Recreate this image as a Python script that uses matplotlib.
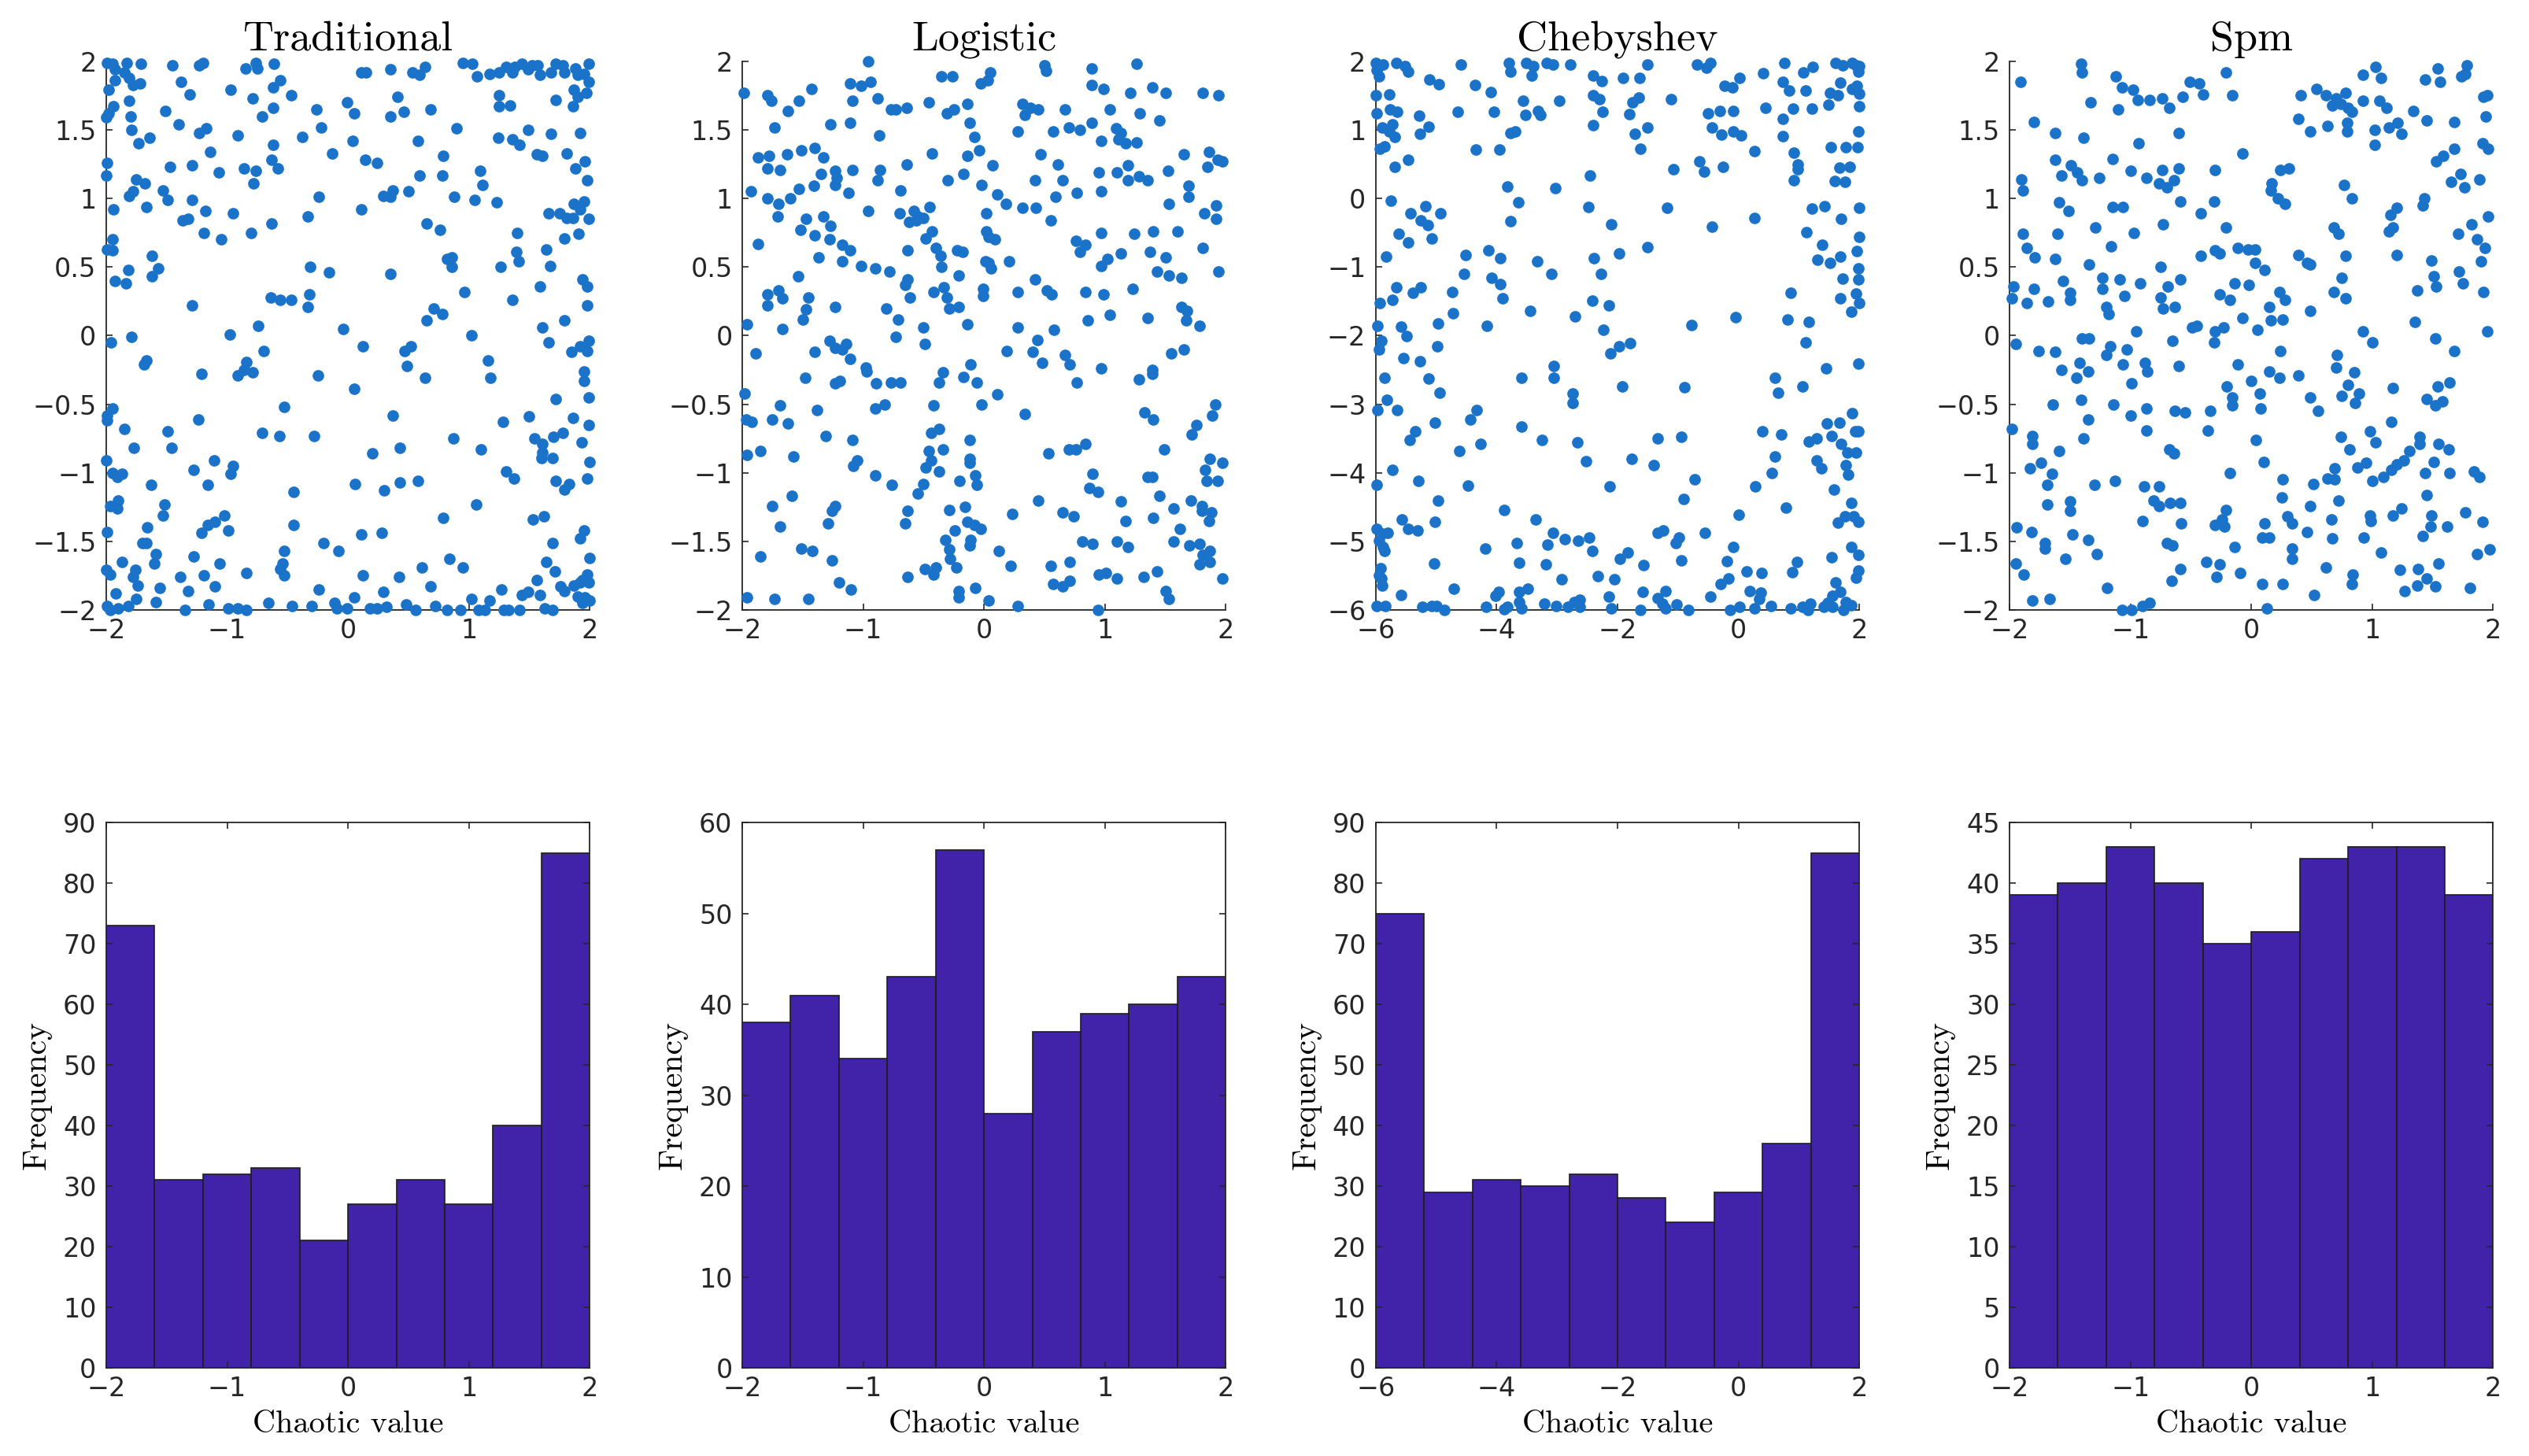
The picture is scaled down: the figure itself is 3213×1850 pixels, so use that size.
import matplotlib.pyplot as plt
import numpy as np

# ---------------- data ----------------
titles = ["Traditional", "Logistic", "Chebyshev", "Spm"]

# scatter points (x, y) of each population, 400 per map
trad_xy = np.array([
    (-1.99,1.99),(-1.95,1.98),(-1.93,1.94),(-1.83,1.99),(-1.85,1.92),(-1.81,1.88),(-1.71,1.98),(-1.45,1.97),(-1.23,1.97),(-1.20,1.99),(-0.85,1.95),(-0.76,1.99),(-0.75,1.95),(-0.61,1.98),(0.11,1.92),(0.15,1.92),(0.35,1.94),(0.53,1.92),(0.59,1.90),(0.64,1.96),(0.95,1.99),(1.03,1.98),(1.07,1.89),(1.17,1.91),(1.25,1.92),(1.31,1.96),(1.36,1.92),(1.38,1.96),(1.44,1.98),(1.49,1.94),(1.52,1.97),(1.57,1.97),(1.59,1.90),(1.68,1.92),(1.72,1.98),(1.78,1.97),(1.79,1.92),(1.88,1.95),(1.90,1.90),(1.95,1.91),(1.99,1.98),(1.99,1.85),
    (-1.93,1.86),(-1.78,1.83),(-1.72,1.84),(-1.98,1.79),(-1.38,1.85),(-1.31,1.76),(-0.97,1.79),(-0.79,1.73),(-0.62,1.81),(-0.56,1.86),(-0.47,1.75),(0.41,1.74),(1.25,1.75),(1.25,1.67),(1.34,1.68),(1.72,1.72),(1.87,1.79),(1.90,1.74),(1.97,1.77),(1.86,1.67),
    (-1.81,1.71),(-1.94,1.67),(-1.98,1.62),(-2.00,1.59),(-1.80,1.60),(-1.51,1.64),(-0.62,1.66),(-0.71,1.60),(-0.26,1.65),(-0.01,1.70),(0.05,1.62),(0.35,1.60),(0.46,1.63),(0.68,1.65),
    (-1.79,1.50),(-1.40,1.54),(-1.23,1.48),(-1.17,1.51),(-0.91,1.46),(-0.38,1.45),(-0.22,1.52),(0.90,1.51),(1.24,1.44),(1.36,1.43),(1.42,1.39),(1.49,1.50),(1.68,1.47),(1.92,1.48),
    (-1.64,1.44),(-1.73,1.40),(0.04,1.42),(0.58,1.42),(-0.62,1.39),(-1.14,1.34),(-0.13,1.33),(0.79,1.31),(1.56,1.32),(1.61,1.31),(1.81,1.33),
    (-1.99,1.26),(-1.47,1.23),(-1.29,1.24),(-1.07,1.19),(-0.86,1.22),(-0.76,1.20),(-0.63,1.28),(-0.58,1.22),(0.14,1.28),(0.24,1.26),(1.09,1.20),(1.88,1.22),(1.96,1.27),(1.98,1.13),
    (-2.00,1.17),(-1.75,1.14),(-1.68,1.11),(-0.78,1.11),(0.59,1.17),(0.78,1.17),(1.11,1.10),
    (-1.81,1.02),(-1.78,1.05),(-1.53,1.06),(-1.49,0.99),(-1.29,0.99),(-1.94,0.92),(-1.67,0.94),(-1.18,0.91),(-0.95,0.89),(-0.24,1.01),(0.11,0.92),(0.29,1.02),(0.35,1.01),(0.37,1.06),(0.50,1.05),(0.88,1.01),(1.05,0.99),(1.23,0.97),(1.87,0.96),(1.95,0.98),(1.92,0.92),(1.66,0.89),(1.75,0.89),(1.81,0.86),(1.86,0.86),(1.99,0.85),
    (-1.37,0.84),(-1.32,0.85),(-0.63,0.82),(-0.33,0.87),(0.65,0.82),(0.76,0.77),(-1.19,0.75),(-1.05,0.70),(-0.80,0.75),(1.40,0.75),(1.79,0.71),(1.91,0.74),
    (-1.95,0.70),(-1.99,0.63),(-1.95,0.62),(-1.62,0.58),(0.82,0.56),(0.86,0.57),(0.86,0.50),(1.39,0.61),(1.41,0.54),(1.64,0.63),(1.67,0.51),(1.26,0.50),
    (-1.82,0.48),(-1.57,0.49),(-1.62,0.43),(-1.93,0.40),(-1.84,0.38),(-0.31,0.50),(-0.16,0.46),(0.35,0.45),(1.94,0.41),(1.98,0.36),(1.59,0.36),(0.96,0.32),
    (-0.64,0.28),(-0.56,0.26),(-0.47,0.26),(-0.32,0.30),(-0.33,0.21),(-1.29,0.22),(1.36,0.26),(0.71,0.20),(0.78,0.16),(1.98,0.22),
    (0.65,0.11),(-0.74,0.07),(-0.04,0.05),(1.61,0.06),(1.79,0.11),
    (-1.96,-0.05),(-1.79,-0.01),(-0.98,0.01),(1.02,0.00),(1.66,-0.05),(1.99,-0.04),(1.92,-0.08),(1.98,-0.11),(1.85,-0.12),(0.12,-0.08),(0.47,-0.11),(0.52,-0.08),(-0.70,-0.11),
    (-1.67,-0.18),(-1.69,-0.21),(-0.84,-0.19),(-0.91,-0.29),(-0.86,-0.25),(-0.79,-0.27),(-1.21,-0.28),(-0.25,-0.29),(0.49,-0.22),(0.64,-0.31),(1.16,-0.18),(1.18,-0.31),(1.95,-0.26),(1.95,-0.33),
    (0.05,-0.39),(1.72,-0.46),(1.99,-0.45),(-0.53,-0.52),(0.37,-0.58),(-1.95,-0.53),(-1.99,-0.58),(-1.99,-0.62),(-1.24,-0.61),(1.28,-0.63),(1.50,-0.59),(1.86,-0.60),(1.99,-0.65),
    (-1.85,-0.68),(-1.49,-0.70),(-0.71,-0.71),(-0.57,-0.73),(-0.28,-0.73),(0.87,-0.75),(1.54,-0.75),(1.70,-0.74),(1.78,-0.71),(1.61,-0.79),(1.93,-0.78),
    (-1.77,-0.82),(-1.46,-0.82),(0.20,-0.86),(0.43,-0.82),(1.10,-0.83),(1.60,-0.89),(1.69,-0.89),(1.61,-0.85),(2.00,-0.92),
    (-2.00,-0.91),(-1.95,-1.00),(-1.91,-1.03),(-1.87,-1.01),(-1.28,-0.98),(-1.11,-0.91),(-0.95,-0.95),(-0.97,-1.01),(1.31,-0.99),(1.37,-1.04),(1.72,-1.06),(1.83,-1.08),(1.79,-1.12),(1.98,-1.04),
    (-1.63,-1.09),(-1.16,-1.09),(-0.45,-1.14),(0.06,-1.08),(0.30,-1.13),(0.43,-1.07),(0.58,-1.06),
    (-1.90,-1.20),(-1.97,-1.24),(-1.91,-1.26),(-1.52,-1.23),(-1.53,-1.31),(-1.02,-1.31),(1.06,-1.23),(0.79,-1.33),(1.53,-1.34),(1.62,-1.32),
    (-1.99,-1.43),(-1.66,-1.40),(-1.21,-1.44),(-1.16,-1.38),(-1.10,-1.36),(-0.99,-1.42),(-0.45,-1.38),(0.11,-1.45),(0.28,-1.44),(1.95,-1.42),(1.92,-1.48),
    (-1.70,-1.51),(-1.67,-1.51),(-0.20,-1.51),(-0.08,-1.57),(1.69,-1.51),(-0.53,-1.57),(-1.59,-1.59),(-1.28,-1.61),(-1.87,-1.65),(-1.60,-1.66),(-1.06,-1.66),(-0.54,-1.66),
    (0.84,-1.63),(0.95,-1.69),(0.61,-1.69),(1.64,-1.65),(2.00,-1.62),(1.71,-1.72),
    (-2.00,-1.71),(-1.97,-1.74),(-1.76,-1.71),(-1.78,-1.76),(-1.39,-1.76),(-1.19,-1.75),(-0.84,-1.73),(-0.56,-1.70),(-0.53,-1.75),(0.12,-1.75),(0.42,-1.76),(1.56,-1.78),(1.98,-1.74),(1.94,-1.78),
    (-1.74,-1.82),(-1.56,-1.84),(-1.32,-1.86),(-1.10,-1.83),(0.68,-1.83),(1.27,-1.85),(1.76,-1.83),(1.87,-1.82),(1.92,-1.80),(1.79,-1.86),(1.99,-1.80),(-1.92,-1.88),(-0.24,-1.85),(0.29,-1.87),
    (-1.75,-1.92),(-1.59,-1.94),(-0.66,-1.95),(0.05,-1.91),(1.02,-1.92),(1.17,-1.93),(1.44,-1.89),(1.49,-1.87),(1.59,-1.89),(1.90,-1.90),(1.96,-1.91),(2.00,-1.93),(1.94,-1.95),
    (-1.99,-1.97),(-1.97,-2.00),(-1.90,-1.99),(-1.82,-1.97),(-1.35,-2.00),(-1.15,-1.96),(-0.99,-1.99),(-0.91,-1.99),(-0.84,-2.00),(-0.46,-1.97),(-0.30,-1.97),(-0.11,-1.95),(-0.09,-1.99),(-0.01,-1.99),(0.18,-1.99),(0.24,-1.99),(0.32,-1.98),(0.48,-1.96),(0.56,-2.00),(0.72,-1.97),(0.82,-2.00),(0.93,-2.00),(1.08,-2.00),(1.13,-2.00),(1.29,-2.00),(1.33,-2.00),(1.42,-2.00),(1.63,-1.99),(1.69,-2.00),
])

log_xy = np.array([
    (-0.96,2.00),(0.50,1.97),(0.51,1.93),(0.89,1.95),(1.26,1.98),(-0.35,1.89),(-0.26,1.89),(0.05,1.92),(-0.03,1.84),(0.03,1.86),(-1.11,1.84),(-1.02,1.82),(-0.94,1.85),(-1.99,1.77),(-1.79,1.75),(-1.76,1.71),(-1.43,1.80),(-1.53,1.71),(-1.09,1.71),(-0.88,1.73),(0.89,1.83),(0.99,1.80),(1.21,1.77),(1.39,1.81),(1.50,1.77),(1.81,1.77),(1.94,1.75),
    (-1.62,1.64),(-0.77,1.65),(-0.73,1.65),(-0.64,1.66),(-0.46,1.70),(-0.31,1.62),(-0.25,1.65),(-0.14,1.69),(0.32,1.69),(0.34,1.61),(0.38,1.66),(0.45,1.65),(0.67,1.65),(1.04,1.65),(1.29,1.62),(1.45,1.57),
    (-1.73,1.52),(-1.27,1.54),(-1.11,1.55),(-0.87,1.46),(-0.12,1.55),(-0.08,1.45),(0.28,1.49),(0.57,1.49),(0.70,1.52),(0.79,1.50),(0.89,1.55),(1.09,1.51),(1.11,1.43),(1.17,1.40),(1.26,1.41),(0.97,1.42),(1.13,1.48),
    (-1.87,1.30),(-1.78,1.31),(-1.63,1.32),(-1.51,1.35),(-1.40,1.37),(-1.33,1.30),(-0.43,1.33),(-0.14,1.31),(-0.04,1.35),(0.47,1.32),(1.65,1.32),(1.86,1.34),(1.93,1.28),(1.97,1.27),
    (-1.79,1.22),(-1.69,1.21),(-1.35,1.18),(-1.23,1.20),(-1.22,1.15),(-1.23,1.10),(-1.09,1.21),(-0.86,1.21),(-0.88,1.13),(-0.64,1.25),(-0.17,1.18),(-0.30,1.13),(0.07,1.24),(0.61,1.25),(0.42,1.13),(0.65,1.13),(0.95,1.19),(1.10,1.19),(1.19,1.24),(1.19,1.13),(1.28,1.16),(1.35,1.13),(1.52,1.20),(1.85,1.23),
    (-1.93,1.05),(-1.53,1.07),(-1.41,1.09),(-1.60,1.00),(-1.79,1.00),(-1.70,0.96),(-1.12,1.04),(-0.69,1.06),(-0.02,1.10),(0.11,1.03),(0.59,1.01),(0.77,1.04),(0.97,1.05),(1.69,1.09),(1.69,1.01),
    (-1.71,0.87),(-1.47,0.85),(-1.33,0.87),(-1.27,0.80),(-1.52,0.77),(-0.96,0.91),(-0.70,0.89),(-0.58,0.91),(-0.55,0.87),(-0.62,0.83),(-0.56,0.84),(-0.50,0.86),(-0.45,0.94),(0.02,0.89),(0.18,0.96),(0.32,0.93),(0.43,0.93),(0.55,0.84),(1.53,0.96),(1.82,0.89),(1.92,0.95),(1.92,0.85),
    (-1.87,0.67),(-1.40,0.73),(-1.28,0.70),(-1.17,0.66),(-1.11,0.62),(-0.43,0.76),(-0.48,0.71),(-0.40,0.64),(-0.36,0.58),(-0.63,0.62),(-0.22,0.62),(-0.18,0.61),(0.02,0.76),(0.04,0.72),(0.09,0.70),(0.97,0.75),(1.24,0.74),(1.40,0.76),(1.60,0.76),(0.76,0.69),(0.84,0.66),(0.79,0.61),(1.81,0.64),
    (-1.37,0.57),(-1.17,0.54),(-1.02,0.51),(-0.90,0.49),(-0.78,0.47),(-0.35,0.50),(0.01,0.54),(0.04,0.53),(0.06,0.49),(0.21,0.54),(0.97,0.51),(1.02,0.56),(1.13,0.60),(1.37,0.61),(1.50,0.57),(1.43,0.47),(1.53,0.44),(1.63,0.42),(1.94,0.47),
    (-1.54,0.43),(-0.21,0.44),(-0.63,0.41),(-0.65,0.37),(0.42,0.41),
    (-1.79,0.30),(-1.70,0.33),(-1.67,0.27),(-1.45,0.28),(-1.79,0.22),(-0.42,0.32),(-0.33,0.35),(-0.31,0.28),(-0.01,0.34),(-0.01,0.29),(0.28,0.32),(0.52,0.33),(0.56,0.30),(0.84,0.32),(0.99,0.30),(1.23,0.34),(-0.61,0.28),
    (-1.47,0.19),(-1.50,0.12),(-1.23,0.21),(-0.81,0.20),(-0.71,0.12),(-0.29,0.20),(-0.21,0.21),(1.63,0.21),(1.68,0.18),(1.67,0.11),(0.86,0.11),(1.04,0.15),(1.35,0.13),
    (-1.96,0.08),(-1.67,0.05),(-0.50,0.06),(-0.14,0.08),(0.28,0.06),(0.58,0.04),(1.78,0.07),
    (-0.73,-0.01),(0.44,-0.03),(-1.28,-0.04),(-1.23,-0.09),(-1.14,-0.06),(-1.17,-0.10),(-1.89,-0.13),(-1.40,-0.12),(-0.49,-0.06),(0.19,-0.11),(0.40,-0.12),(0.67,-0.14),(0.71,-0.21),(0.48,-0.20),(1.55,-0.13),(1.65,-0.10),
    (-1.11,-0.17),(-0.98,-0.23),(-0.97,-0.26),(-1.48,-0.31),(-1.23,-0.35),(-1.19,-0.33),(-0.89,-0.35),(-0.77,-0.34),(-0.69,-0.34),(-0.37,-0.34),(-0.34,-0.27),(-0.17,-0.30),(-0.11,-0.21),(-0.06,-0.34),(0.77,-0.34),(0.97,-0.24),(1.28,-0.32),(1.39,-0.25),(1.39,-0.28),(0.11,-0.43),
    (-1.98,-0.42),(-1.69,-0.51),(-1.38,-0.54),(-0.90,-0.53),(-0.82,-0.50),(-0.42,-0.51),(-0.02,-0.50),(0.34,-0.57),(1.33,-0.56),(1.40,-0.61),(1.91,-0.50),(1.89,-0.58),
    (-1.97,-0.61),(-1.92,-0.63),(-1.75,-0.61),(-1.62,-0.64),(-1.31,-0.73),(-1.09,-0.76),(-0.44,-0.71),(-0.37,-0.68),(-0.12,-0.76),(1.76,-0.65),(1.72,-0.72),
    (-1.96,-0.87),(-1.85,-0.84),(-1.58,-0.88),(-1.08,-0.95),(-1.05,-0.91),(-0.46,-0.84),(-0.34,-0.83),(-0.48,-0.96),(-0.44,-0.91),(-0.37,-0.99),(-0.12,-0.90),(-0.12,-0.93),(0.53,-0.86),(0.70,-0.83),(0.76,-0.83),(0.84,-0.79),(1.49,-0.83),(1.87,-0.90),(1.97,-0.93),(1.83,-0.98),
    (-0.90,-1.02),(-0.76,-1.09),(-0.50,-1.08),(-0.55,-1.15),(-0.20,-1.06),(-0.07,-1.02),(-0.06,-1.09),(0.90,-1.01),(0.87,-1.11),(0.94,-1.14),(1.35,-1.03),(1.39,-1.03),(1.84,-1.06),(1.93,-1.06),
    (-1.59,-1.17),(-1.75,-1.24),(-1.23,-1.24),(-1.26,-1.28),(-0.63,-1.28),(-0.29,-1.27),(-0.16,-1.25),(0.45,-1.20),(1.13,-1.21),(1.45,-1.17),(1.57,-1.26),(1.71,-1.20),(1.80,-1.24),(1.80,-1.28),(1.88,-1.29),
    (-1.69,-1.39),(-1.29,-1.37),(-0.65,-1.37),(-0.24,-1.42),(-0.14,-1.36),(-0.08,-1.38),(-0.03,-1.41),(0.23,-1.30),(0.65,-1.29),(0.74,-1.32),(1.17,-1.35),(1.40,-1.33),(1.62,-1.41),(1.86,-1.35),
    (-0.32,-1.49),(-0.11,-1.49),(-0.12,-1.53),(0.81,-1.50),(0.90,-1.52),(1.10,-1.50),(1.19,-1.54),(1.57,-1.50),(1.70,-1.53),(1.78,-1.52),
    (-1.85,-1.61),(-1.51,-1.55),(-1.42,-1.57),(-1.26,-1.64),(-0.29,-1.56),(-0.28,-1.63),(-0.23,-1.69),(0.12,-1.57),(0.22,-1.68),(0.55,-1.68),(0.71,-1.65),(1.87,-1.57),(1.81,-1.60),(1.87,-1.65),(1.78,-1.67),
    (-0.49,-1.70),(-0.40,-1.69),(-0.42,-1.74),(-0.63,-1.76),(0.95,-1.74),(1.01,-1.73),(1.10,-1.77),(1.32,-1.76),(1.43,-1.72),(1.97,-1.77),
    (-1.20,-1.80),(-1.10,-1.85),(-0.21,-1.86),(-0.07,-1.84),(0.57,-1.81),(0.65,-1.83),(0.71,-1.79),(1.50,-1.86),
    (-1.96,-1.91),(-1.73,-1.92),(-1.45,-1.92),(-0.21,-1.91),(0.04,-1.93),(0.28,-1.97),(0.94,-2.00),(1.53,-1.92),
])

cheb_xy = np.array([
    (-6.00,1.97),(-5.95,1.93),(-5.88,1.95),(-5.98,1.87),(-5.95,1.78),(-5.66,1.97),(-5.51,1.93),(-5.47,1.85),(-4.59,1.95),(-3.80,1.98),(-3.77,1.85),(-3.51,1.97),(-3.40,1.93),(-3.42,1.79),(-3.17,1.98),(-3.07,1.95),(-2.78,1.95),(-1.50,1.95),(-0.68,1.95),(-0.53,1.91),(-0.47,1.98),(0.76,1.98),(1.07,1.84),(1.23,1.92),(0.41,1.83),(1.61,1.97),(1.72,1.94),(1.88,1.98),(1.94,1.94),(2.00,1.93),(1.98,1.85),
    (-5.11,1.74),(-4.96,1.67),(-4.36,1.65),(-4.10,1.55),(-2.40,1.79),(-2.26,1.71),(-1.91,1.76),(-1.63,1.76),(-0.23,1.64),(-0.10,1.62),(0.02,1.76),(0.74,1.70),(0.84,1.57),(1.11,1.57),(1.68,1.69),(1.52,1.54),(1.64,1.51),(1.88,1.60),(1.96,1.64),(2.00,1.53),(-5.78,1.52),(-6.00,1.50),
    (-3.56,1.43),(-2.96,1.43),(-2.40,1.51),(-2.30,1.45),(-1.65,1.47),(-1.75,1.40),(-1.12,1.45),(-5.77,1.30),(-5.65,1.26),(-5.98,1.24),(-5.28,1.21),(-4.65,1.26),(-4.05,1.26),(-3.52,1.22),(-3.32,1.28),(-3.28,1.22),(-2.25,1.26),(-1.81,1.23),(-0.50,1.24),(-0.31,1.28),(-0.08,1.27),(0.45,1.32),(0.90,1.31),(1.22,1.31),(1.49,1.37),(2.00,1.35),
    (-5.89,1.03),(-5.73,1.08),(-5.78,0.98),(-5.69,0.90),(-5.27,0.94),(-5.13,1.05),(-3.77,0.95),(-3.69,0.98),(-2.40,1.07),(-1.72,0.94),(-1.51,1.04),(-0.44,1.04),(-0.28,0.93),(-0.08,0.98),(0.05,0.92),(0.73,1.16),(0.74,0.91),(1.99,0.98),
    (-5.93,0.72),(-5.86,0.76),(-4.35,0.71),(-3.96,0.71),(-1.62,0.72),(0.27,0.69),(0.92,0.67),(1.53,0.75),(1.78,0.75),(1.97,0.75),
    (-5.46,0.56),(-5.69,0.46),(-1.07,0.43),(-0.65,0.54),(-0.57,0.39),(-0.26,0.46),(0.98,0.50),(0.98,0.43),(1.67,0.45),(1.84,0.46),(0.92,0.27),(1.60,0.25),(1.76,0.24),(-2.46,0.34),
    (-3.83,0.17),(-3.03,0.15),(-5.75,-0.03),(-3.64,-0.05),(-2.48,-0.13),(-1.18,-0.14),(0.26,-0.28),(1.22,-0.15),(1.42,-0.11),(2.00,-0.14),(1.70,-0.30),
    (-5.42,-0.22),(-5.18,-0.11),(-4.93,-0.22),(-5.26,-0.32),(-5.14,-0.39),(-3.77,-0.33),(-2.10,-0.38),(-0.44,-0.41),
    (-5.62,-0.52),(-5.47,-0.64),(-5.08,-0.58),(1.13,-0.49),(2.00,-0.56),(1.38,-0.68),(-1.50,-0.71),(-5.83,-0.85),(-4.51,-0.82),(-4.13,-0.75),(-3.94,-0.87),(-3.33,-0.92),(-2.39,-0.87),(-1.98,-0.80),(1.31,-0.89),(1.51,-0.94),(1.69,-0.85),(1.96,-0.77),(1.99,-1.02),
    (-4.54,-1.10),(-3.10,-1.10),(-4.09,-1.16),(-3.94,-1.25),(-2.27,-1.10),(1.73,-1.17),(1.99,-1.18),
    (-5.66,-1.30),(-5.38,-1.37),(-5.26,-1.29),(-4.74,-1.36),(-5.73,-1.48),(-5.93,-1.53),(-3.90,-1.45),(-2.42,-1.49),(-2.14,-1.56),(0.87,-1.37),(1.68,-1.46),(1.94,-1.39),(2.00,-1.53),(1.87,-1.65),
    (-4.72,-1.67),(-3.44,-1.64),(-2.70,-1.72),(-0.05,-1.73),(0.81,-1.77),(1.16,-1.80),(-4.97,-1.82),(-0.78,-1.85),(-4.16,-1.86),(-5.97,-1.86),(-5.58,-1.87),(-2.24,-1.91),
    (-5.91,-2.07),(-5.49,-2.01),(-5.95,-2.20),(-4.98,-2.16),(-5.54,-2.33),(-5.27,-2.37),(-2.12,-2.26),(-1.98,-2.16),(-1.79,-2.11),(1.11,-2.10),(1.99,-2.41),(1.45,-2.48),
    (-5.85,-2.62),(-5.12,-2.63),(-4.95,-2.83),(-3.59,-2.62),(-3.06,-2.44),(-3.06,-2.62),(-2.74,-2.85),(-2.74,-2.98),(-1.92,-2.74),(-0.89,-2.75),(0.60,-2.61),(0.65,-2.83),(1.06,-2.74),
    (-5.82,-2.94),(-5.97,-3.08),(-5.65,-3.08),(-4.33,-3.08),(-4.44,-3.22),(-5.02,-3.27),(-3.59,-3.33),(-5.35,-3.40),(-5.44,-3.52),(-4.27,-3.58),(-4.62,-3.68),(-3.25,-3.52),(-2.67,-3.56),(-1.34,-3.50),(-0.95,-3.48),(0.40,-3.40),(0.71,-3.44),(1.46,-3.28),(1.67,-3.27),(1.88,-3.13),(1.93,-3.40),(1.99,-3.40),(1.54,-3.46),(1.16,-3.54),(1.30,-3.50),(1.70,-3.58),(1.80,-3.71),(1.95,-3.71),
    (-1.76,-3.80),(-2.52,-3.83),(-1.40,-3.89),(0.61,-3.76),(0.55,-4.00),(1.29,-3.82),(1.37,-3.93),(1.77,-3.89),(1.81,-4.03),
    (-5.72,-3.96),(-5.98,-4.17),(-5.30,-4.12),(-4.47,-4.19),(-2.13,-4.20),(-0.73,-4.10),(0.28,-4.20),(1.58,-4.24),
    (-4.97,-4.41),(-0.91,-4.38),(0.78,-4.51),(1.87,-4.44),(-3.87,-4.54),(-3.36,-4.68),(0.01,-4.61),(-5.57,-4.68),(-5.02,-4.71),(1.64,-4.73),(1.76,-4.63),(1.90,-4.63),(1.98,-4.72),
    (-5.98,-4.82),(-5.89,-4.89),(-5.80,-4.87),(-5.47,-4.82),(-5.31,-4.84),(-3.07,-4.87),(-2.87,-4.97),(-2.65,-4.99),(-2.47,-4.95),(-1.34,-4.88),(-1.25,-4.84),(-0.98,-4.95),(-1.04,-5.03),(-0.56,-4.87),
    (-5.95,-4.99),(-5.88,-5.08),(-5.85,-5.14),(-4.19,-5.10),(-3.67,-5.03),(-3.16,-5.05),(-2.42,-5.14),(-1.83,-5.16),(-1.96,-5.26),(-0.08,-5.08),(1.87,-5.08),(1.99,-5.20),(1.54,-5.23),
    (-5.04,-5.32),(-3.63,-5.31),(-3.18,-5.33),(-1.57,-5.35),(-0.95,-5.28),(-0.19,-5.29),(0.97,-5.30),
    (-5.92,-5.39),(-5.95,-5.49),(-5.91,-5.54),(-5.90,-5.64),(-2.93,-5.55),(-2.33,-5.51),(-2.05,-5.55),(0.13,-5.44),(0.38,-5.46),(0.89,-5.45),(1.98,-5.43),(1.95,-5.53),(1.61,-5.60),(-0.30,-5.62),(-0.17,-5.54),
    (-4.71,-5.69),(-5.58,-5.78),(-4.02,-5.79),(-3.97,-5.74),(-3.63,-5.74),(-3.48,-5.69),(-2.14,-5.80),(-1.59,-5.74),(-1.21,-5.72),(-0.47,-5.81),(0.19,-5.72),(0.37,-5.75),(0.34,-5.84),(1.69,-5.74),(1.56,-5.79),
    (-5.98,-5.94),(-5.84,-5.94),(-5.23,-5.95),(-5.08,-5.94),(-4.99,-5.94),(-4.86,-6.00),(-4.17,-5.95),(-3.88,-5.99),(-3.82,-5.95),(-3.59,-5.98),(-3.63,-5.89),(-3.21,-5.91),(-3.02,-5.94),(-2.82,-5.95),(-2.72,-5.89),(-2.63,-5.85),(-2.63,-5.96),(-2.11,-5.98),(-1.62,-6.00),(-1.34,-5.83),(-1.26,-5.91),(-1.21,-5.98),(-1.03,-5.92),(-0.83,-6.00),(-0.14,-6.00),(0.02,-5.95),(0.27,-5.98),(0.54,-5.94),(0.87,-5.98),(1.06,-5.95),(1.19,-5.91),(1.15,-6.00),(1.41,-5.96),(1.48,-5.90),(1.56,-5.95),(1.74,-6.00),(1.77,-5.89),(1.87,-5.93),
])

spm_xy = np.array([
    (-1.41,1.98),(-1.40,1.92),(-0.21,1.92),(1.03,1.96),(1.07,1.88),(0.92,1.90),(1.54,1.95),(1.56,1.85),(1.44,1.87),(1.78,1.97),(1.74,1.89),(1.77,1.91),(-1.91,1.85),(-1.12,1.89),(-1.07,1.81),(-0.98,1.79),(-0.94,1.72),(-0.84,1.72),(-0.74,1.73),(-0.68,1.66),(-0.57,1.74),(-0.51,1.85),(-0.43,1.84),(-0.40,1.76),(-0.16,1.75),(-1.33,1.70),(-1.10,1.65),(0.41,1.75),(0.54,1.80),(0.62,1.75),(0.70,1.73),(0.67,1.68),(0.74,1.69),(0.78,1.77),(0.80,1.66),(0.83,1.63),(0.92,1.71),(1.06,1.71),(1.12,1.66),(1.34,1.64),(1.92,1.74),(1.95,1.75),
    (-1.80,1.56),(-1.62,1.48),(-1.39,1.44),(-0.60,1.48),(0.39,1.58),(0.49,1.49),(0.63,1.53),(0.79,1.55),(0.79,1.49),(1.02,1.50),(1.14,1.52),(1.21,1.55),(1.24,1.47),(1.45,1.57),(1.68,1.56),(1.94,1.60),(1.02,1.39),(-0.93,1.40),(-0.07,1.33),(1.91,1.40),(1.96,1.36),(1.68,1.36),(1.59,1.31),(1.53,1.27),
    (-1.62,1.28),(-1.49,1.24),(-1.44,1.19),(-1.40,1.13),(-1.57,1.17),(-1.26,1.15),(-1.15,1.29),(-1.00,1.20),(-0.87,1.15),(-0.74,1.21),(-0.76,1.11),(-0.70,1.08),(-0.64,1.13),(-0.60,1.22),(-0.30,1.21),(0.24,1.21),(0.31,1.22),(0.17,1.11),(0.16,1.06),(0.22,1.00),(0.28,0.96),(0.77,1.10),(0.83,1.00),(1.65,1.12),(1.73,1.18),(1.76,1.08),(1.89,1.14),(-1.90,1.14),(-1.89,1.06),
    (-1.59,0.97),(-1.51,0.91),(-1.15,0.94),(-1.06,0.94),(-0.59,0.98),(-0.31,0.98),(-0.42,0.89),(1.43,1.00),(1.42,0.95),(1.20,0.93),(1.15,0.88),(1.96,0.87),
    (-1.29,0.79),(-0.73,0.81),(-0.97,0.75),(-0.21,0.79),(-1.89,0.74),(-1.60,0.74),(0.68,0.79),(0.72,0.74),(1.17,0.79),(1.14,0.76),(1.82,0.81),(1.71,0.74),(1.87,0.70),(1.93,0.64),
    (-1.86,0.64),(-1.79,0.57),(-1.62,0.56),(-1.16,0.65),(-1.34,0.52),(-0.75,0.50),(-0.42,0.58),(-0.30,0.62),(-0.26,0.60),(-0.11,0.64),(-0.03,0.63),(0.03,0.63),(0.03,0.53),(0.11,0.48),(0.39,0.59),(0.46,0.53),(0.49,0.52),(0.78,0.58),(1.20,0.59),(1.49,0.55),(1.90,0.54),(1.72,0.47),
    (-1.97,0.36),(-1.98,0.27),(-1.86,0.24),(-1.80,0.34),(-1.68,0.25),(-1.56,0.40),(-1.50,0.31),(-1.50,0.26),(-1.23,0.42),(-1.23,0.34),(-1.09,0.41),(-1.05,0.29),(-0.92,0.38),(-0.69,0.36),(-0.59,0.41),(-0.75,0.28),(-0.73,0.20),(-0.63,0.21),(-1.20,0.21),(-1.18,0.16),(-0.26,0.30),(-0.18,0.26),(-0.14,0.38),(-0.02,0.37),(0.23,0.32),(0.28,0.26),(0.15,0.21),(0.75,0.42),(0.68,0.32),(0.78,0.27),(1.37,0.33),(1.51,0.43),(1.53,0.36),(1.75,0.38),(1.92,0.32),(0.49,0.18),
    (-0.07,0.13),(0.16,0.11),(0.26,0.12),(1.35,0.10),(-0.49,0.06),(-0.45,0.07),(-0.95,0.03),(-0.30,0.03),(-0.23,0.06),(0.05,0.04),(0.92,0.03),(1.95,0.03),
    (-1.40,-0.02),(-1.34,-0.02),(-0.65,-0.04),(1.00,-0.05),(1.52,-0.02),(-0.31,-0.05),(-1.95,-0.06),(-1.76,-0.11),(-1.62,-0.12),(-1.17,-0.08),(-1.20,-0.14),(-1.03,-0.10),(0.24,-0.11),(0.71,-0.14),(1.68,-0.11),
    (-1.42,-0.20),(-1.57,-0.25),(-1.35,-0.26),(-1.45,-0.31),(-1.06,-0.21),(-0.88,-0.20),(-0.86,-0.26),(-0.60,-0.22),(-0.99,-0.35),(-0.11,-0.21),(0.00,-0.33),(0.15,-0.26),(0.23,-0.31),(0.39,-0.29),(0.70,-0.23),(0.85,-0.27),(0.80,-0.36),(-0.20,-0.37),(1.54,-0.37),(1.64,-0.34),
    (-1.64,-0.50),(-1.41,-0.47),(-1.14,-0.50),(-1.00,-0.58),(-0.87,-0.53),(-0.63,-0.55),(-0.55,-0.56),(-0.34,-0.55),(-0.16,-0.45),(-0.16,-0.51),(0.07,-0.42),(0.08,-0.53),(0.49,-0.45),(0.55,-0.55),(0.75,-0.44),(0.89,-0.42),(0.86,-0.49),(1.17,-0.38),(1.45,-0.46),(1.52,-0.51),(1.58,-0.48),
    (-1.98,-0.68),(-1.81,-0.73),(-1.81,-0.79),(-1.35,-0.61),(-1.39,-0.75),(-0.87,-0.69),(-0.36,-0.69),(1.16,-0.63),(0.04,-0.76),(0.98,-0.70),(1.03,-0.78),(0.74,-0.74),(0.81,-0.83),(1.39,-0.74),(1.39,-0.79),(1.55,-0.79),(1.63,-0.83),(1.31,-0.84),
    (-1.59,-0.84),(-0.68,-0.83),(-0.64,-0.86),(-1.74,-0.93),(-1.83,-0.97),(-1.65,-1.01),(-1.69,-1.09),(-1.13,-1.06),(-1.30,-1.09),(0.10,-0.92),(-0.18,-1.00),(0.26,-1.05),(0.88,-0.96),(0.95,-0.93),(0.69,-0.97),(0.63,-1.04),(0.69,-1.05),(0.51,-1.08),(1.09,-1.03),(1.00,-1.06),(1.16,-0.98),(1.20,-0.94),(1.26,-0.91),(1.51,-0.92),(1.44,-1.00),(1.64,-1.00),(1.84,-0.99),(1.89,-1.03),
    (-0.89,-1.10),(-0.76,-1.10),(-1.69,-1.23),(-1.50,-1.21),(-1.50,-1.28),(-0.81,-1.20),(-0.76,-1.24),(-0.67,-1.22),(-0.59,-1.22),(0.25,-1.18),(0.49,-1.24),(0.72,-1.20),(1.45,-1.16),(1.77,-1.29),(1.24,-1.26),
    (-0.21,-1.27),(-0.24,-1.34),(-0.30,-1.38),(-0.22,-1.39),(-0.90,-1.35),(-0.58,-1.37),(0.30,-1.32),(0.34,-1.37),(0.11,-1.37),(0.66,-1.34),(0.98,-1.31),(0.99,-1.35),(1.17,-1.31),(1.49,-1.31),(1.48,-1.39),(1.62,-1.39),(1.91,-1.36),
    (-1.94,-1.40),(-1.82,-1.43),(-1.48,-1.45),(-1.71,-1.51),(-1.71,-1.55),(-1.35,-1.49),(-1.28,-1.59),(-1.54,-1.63),(-0.70,-1.51),(-0.65,-1.53),(-0.14,-1.54),(0.09,-1.47),(0.15,-1.47),(0.46,-1.43),(0.67,-1.48),(0.93,-1.47),(1.42,-1.46),(1.07,-1.58),(1.87,-1.59),(1.97,-1.56),(0.34,-1.55),(0.34,-1.63),
    (-1.95,-1.66),(-1.88,-1.74),(-0.59,-1.70),(-0.37,-1.65),(-0.26,-1.67),(-0.29,-1.76),(-0.09,-1.73),(0.62,-1.69),(0.84,-1.74),(0.83,-1.81),(1.23,-1.71),(1.38,-1.70),(1.45,-1.77),(1.52,-1.83),(1.55,-1.66),(1.37,-1.82),(1.27,-1.86),(1.81,-1.84),(-0.66,-1.79),(0.09,-1.81),(0.26,-1.81),(-1.19,-1.84),(0.52,-1.89),
    (-1.81,-1.93),(-1.67,-1.92),(-1.07,-2.00),(-0.99,-2.00),(-0.90,-1.97),(-0.84,-1.95),(0.13,-1.99),
])

# histogram bin edges and counts
trad_edges = [-2.0, -1.6, -1.2, -0.8, -0.4, 0.0, 0.4, 0.8, 1.2, 1.6, 2.0]
trad_counts = [73, 31, 32, 33, 21, 27, 31, 27, 40, 85]
log_edges = [-2.0, -1.6, -1.2, -0.8, -0.4, 0.0, 0.4, 0.8, 1.2, 1.6, 2.0]
log_counts = [38, 41, 34, 43, 57, 28, 37, 39, 40, 43]
cheb_edges = [-6.0, -5.2, -4.4, -3.6, -2.8, -2.0, -1.2, -0.4, 0.4, 1.2, 2.0]
cheb_counts = [75, 29, 31, 30, 32, 28, 24, 29, 37, 85]
spm_edges = [-2.0, -1.6, -1.2, -0.8, -0.4, 0.0, 0.4, 0.8, 1.2, 1.6, 2.0]
spm_counts = [39, 40, 43, 40, 35, 36, 42, 43, 43, 39]

# axis ranges and ticks
lims = [(-2, 2), (-2, 2), (-6, 2), (-2, 2)]
xticks = [[-2, -1, 0, 1, 2], [-2, -1, 0, 1, 2], [-6, -4, -2, 0, 2], [-2, -1, 0, 1, 2]]
sc_yticks = [[-2, -1.5, -1, -0.5, 0, 0.5, 1, 1.5, 2], [-2, -1.5, -1, -0.5, 0, 0.5, 1, 1.5, 2],
             [-6, -5, -4, -3, -2, -1, 0, 1, 2], [-2, -1.5, -1, -0.5, 0, 0.5, 1, 1.5, 2]]
hist_ymax = [90, 60, 90, 45]
hist_ystep = [10, 10, 10, 5]

# ---------------- styling ----------------
dot_color = '#1a73c9'
bar_color = '#4123aa'
axis_color = '#262626'
tick_font = 'DejaVu Sans'
serif_font = 'cmr10'


def fmt(v):
    return ('%g' % v).replace('-', '\u2212')


def style_axes(ax, box):
    for side in ['top', 'right']:
        ax.spines[side].set_visible(box)
    for sp in ax.spines.values():
        sp.set_color(axis_color)
        sp.set_linewidth(1.3)
    ax.tick_params(direction='in', length=6, width=1.2, color=axis_color,
                   labelsize=24, labelcolor=axis_color, top=box, right=box)
    ax.tick_params(axis='x', pad=7)
    ax.tick_params(axis='y', pad=9)
    for lab in ax.get_xticklabels() + ax.get_yticklabels():
        lab.set_fontfamily(tick_font)


fig = plt.figure(figsize=(32.13, 18.5), dpi=100)

lefts = [0.0420, 0.2935, 0.5440, 0.7946]
w = 0.1912
points = [trad_xy, log_xy, cheb_xy, spm_xy]
edges_all = [trad_edges, log_edges, cheb_edges, spm_edges]
counts_all = [trad_counts, log_counts, cheb_counts, spm_counts]

for i in range(4):
    # scatter of the population
    ax = fig.add_axes([lefts[i], 0.5811, w, 0.3768])
    pts = points[i]
    ax.scatter(pts[:, 0], pts[:, 1], s=112, color=dot_color, linewidths=0, clip_on=False, zorder=3)
    ax.set_xlim(*lims[i])
    ax.set_ylim(*lims[i])
    ax.set_xticks(xticks[i])
    ax.set_xticklabels([fmt(t) for t in xticks[i]])
    ax.set_yticks(sc_yticks[i])
    ax.set_yticklabels([fmt(t) for t in sc_yticks[i]])
    style_axes(ax, box=False)
    ax.set_title(titles[i], fontfamily=serif_font, fontsize=39, pad=10, color='black')

    # histogram of the chaotic values
    hx = fig.add_axes([lefts[i], 0.0605, w, 0.3746])
    e = np.array(edges_all[i])
    hx.bar(e[:-1], counts_all[i], width=np.diff(e), align='edge',
           color=bar_color, edgecolor='#1e1e1e', linewidth=1.2)
    hx.set_xlim(*lims[i])
    hx.set_ylim(0, hist_ymax[i])
    hx.set_xticks(xticks[i])
    hx.set_xticklabels([fmt(t) for t in xticks[i]])
    yt = list(range(0, hist_ymax[i] + 1, hist_ystep[i]))
    hx.set_yticks(yt)
    hx.set_yticklabels([str(t) for t in yt])
    style_axes(hx, box=True)
    hx.set_xlabel('Chaotic value', fontfamily=serif_font, fontsize=29, labelpad=8)
    hx.set_ylabel('Frequency', fontfamily=serif_font, fontsize=30, labelpad=10)

fig.savefig('out.png', dpi=100, facecolor='white')
